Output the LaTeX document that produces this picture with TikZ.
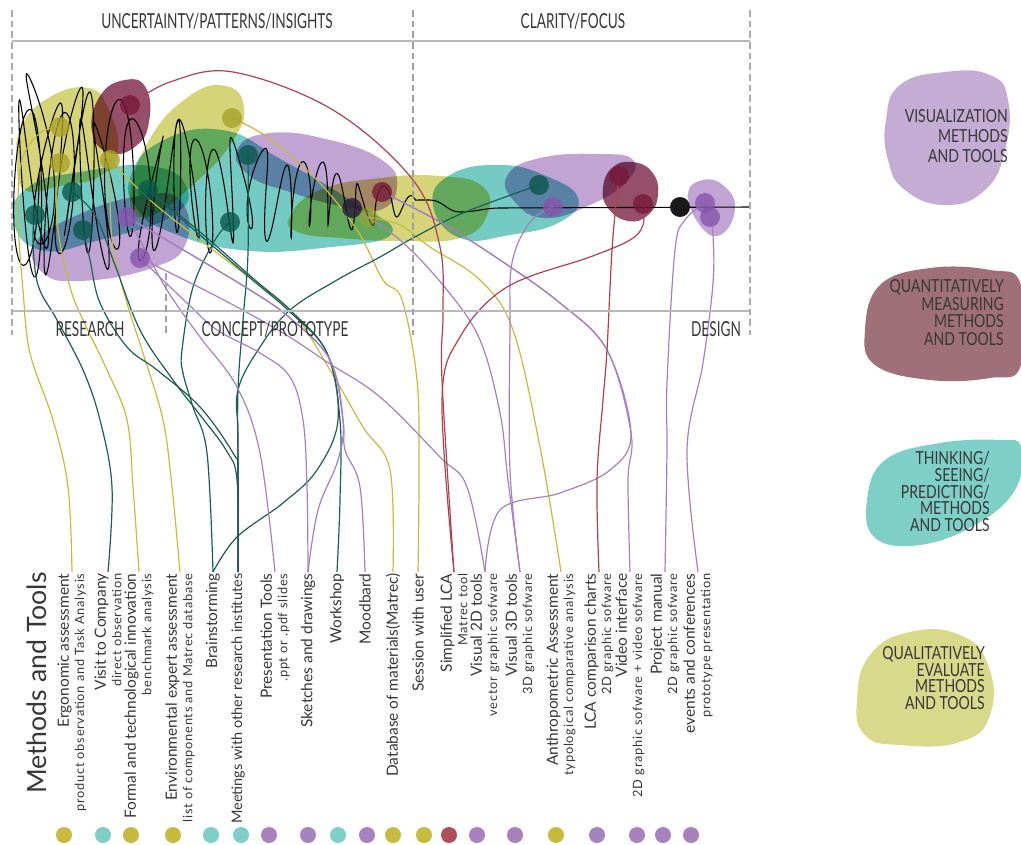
\documentclass[tikz,border=0pt]{standalone}
\usepackage{fontspec}
\setmainfont{Lato}
\newfontfamily\hdfont[FakeStretch=0.66]{Lato}
\newfontfamily\lgfont[FakeStretch=0.78]{Lato}
\newfontfamily\subfam[LetterSpace=6]{Lato}

\pgfdeclarelayer{blobs}
\pgfdeclarelayer{lines}
\pgfsetlayers{blobs,lines,main}

\definecolor{txtgray}{RGB}{55,55,55}
\definecolor{blY}{RGB}{206,204,96}
\definecolor{blT}{RGB}{92,194,186}
\definecolor{blP}{RGB}{182,148,205}
\definecolor{blM}{RGB}{132,48,78}
\definecolor{lgP}{RGB}{197,172,212}
\definecolor{lgM}{RGB}{160,112,122}
\definecolor{lgT}{RGB}{126,207,200}
\definecolor{lgY}{RGB}{217,217,139}
\definecolor{lineO}{RGB}{200,186,60}
\definecolor{lineT}{RGB}{28,94,86}
\definecolor{lineP}{RGB}{163,128,192}
\definecolor{lineR}{RGB}{176,64,84}
\definecolor{dotO}{RGB}{168,162,40}
\definecolor{dotT}{RGB}{10,88,76}
\definecolor{dotP}{RGB}{135,85,172}
\definecolor{dotM}{RGB}{118,26,56}
\definecolor{bO}{RGB}{198,187,60}
\definecolor{bT}{RGB}{126,207,200}
\definecolor{bP}{RGB}{166,130,190}
\definecolor{bR}{RGB}{176,78,92}

\newcommand{\subl}[1]{{\subfam\fontsize{9.6}{10}\selectfont #1}}

\begin{document}
\begin{tikzpicture}[x=0.75pt, y=-0.75pt,
  lbl/.style={rotate=90, anchor=east, align=right, inner sep=1pt, text=txtgray, font=\fontsize{11.6}{11.5}\selectfont},
  cdot/.style={circle, minimum size=15pt, inner sep=0pt, fill opacity=.8},
  bdot/.style={circle, minimum size=12pt, inner sep=0pt},
  blob/.style={fill opacity=.85, blend mode=multiply},
  conn/.style={line width=0.9pt},
  lnO/.style={conn, draw=lineO},
  lnT/.style={conn, draw=lineT},
  lnP/.style={conn, draw=lineP},
  lnR/.style={conn, draw=lineR},
  scrib/.style={draw=black, line width=0.8pt},
  hd/.style={font=\hdfont\fontsize{15.5}{16}\selectfont, text=txtgray},
  lg/.style={anchor=north east, align=right, inner sep=0pt, font=\lgfont\fontsize{13.5}{13.3}\selectfont, text=txtgray},
  frameline/.style={draw=gray!55, line width=1.5pt},
  vdash/.style={draw=gray!65, line width=1pt, dash pattern=on 5pt off 3pt}]
\useasboundingbox (0,0) rectangle (1021,845);

% frame
\draw[frameline] (12,41) -- (750,41);
\draw[frameline] (12,311) -- (750,311);
\draw[vdash] (12,10) -- (12,335);
\draw[vdash] (750,10) -- (750,335);
\draw[vdash, line width=2pt, draw=gray!75] (413,10) -- (413,335);
\draw[vdash, line width=2pt, draw=gray!75] (166,273) -- (166,335);

\node[hd] (hUnc) at (217,21) {UNCERTAINTY/PATTERNS/INSIGHTS};
\node[hd] (hCla) at (573,21) {CLARITY/FOCUS};
\node[hd] (hRes) at (90,329) {RESEARCH};
\node[hd] (hCon) at (275,329) {CONCEPT/PROTOTYPE};
\node[hd] (hDes) at (716,329) {DESIGN};

% blobs in the chart
\begin{pgfonlayer}{blobs}
\fill[blob, fill=blY] plot[smooth cycle, tension=.8] coordinates {(17,160) (22,125) (50,97) (88,88) (108,108) (118,150) (100,176) (60,186) (25,190)};
\fill[blob, fill=blT] plot[smooth cycle, tension=.8] coordinates {(13,218) (30,186) (80,172) (150,166) (186,186) (172,216) (100,240) (40,250)};
\fill[blob, fill=blM] plot[smooth cycle, tension=.8] coordinates {(92,132) (100,96) (125,80) (146,88) (149,122) (136,146) (110,153)};
\fill[blob, fill=blY] plot[smooth cycle, tension=.8] coordinates {(130,200) (148,142) (188,97) (226,86) (244,108) (232,142) (196,182) (150,216)};
\fill[blob, fill=blT] plot[smooth cycle, tension=.8] coordinates {(130,178) (160,142) (222,130) (282,160) (350,200) (392,233) (322,248) (240,250) (170,232) (138,210)};
\fill[blob, fill=blP] plot[smooth cycle, tension=.8] coordinates {(36,242) (80,214) (140,196) (180,200) (186,243) (152,268) (80,281) (42,272)};
\fill[blob, fill=blP] plot[smooth cycle, tension=.8] coordinates {(237,150) (270,133) (330,140) (382,160) (397,186) (380,210) (340,206) (290,192) (250,176)};
\fill[blob, fill=blY] plot[smooth cycle, tension=.8] coordinates {(290,216) (320,190) (380,178) (440,176) (482,186) (487,215) (460,238) (400,241) (340,238) (298,232)};
\fill[blob, fill=blT] plot[smooth cycle, tension=.8] coordinates {(433,205) (450,175) (500,165) (546,176) (578,198) (560,222) (510,235) (460,238)};
\fill[blob, fill=blP] plot[smooth cycle, tension=.8] coordinates {(507,176) (540,158) (600,154) (633,160) (626,182) (590,205) (545,218) (515,202)};
\fill[blob, fill=blM] plot[smooth cycle, tension=.8] coordinates {(603,188) (612,168) (632,162) (652,172) (658,195) (648,215) (628,221) (608,208)};
\fill[blob, fill=blP] plot[smooth cycle, tension=.8] coordinates {(688,195) (703,180) (724,186) (735,208) (722,234) (702,228)};
% legend blobs
\fill[lgP] plot[smooth cycle, tension=.8] coordinates {(886,120) (900,85) (945,72) (990,75) (1008,100) (1005,150) (985,190) (945,205) (905,190) (888,160)};
\fill[lgM] plot[smooth cycle, tension=.7] coordinates {(865,330) (880,285) (930,268) (990,270) (1021,285) (1021,365) (990,378) (930,380) (875,365)};
\fill[lgT] plot[smooth cycle, tension=.7] coordinates {(867,500) (885,460) (940,443) (1000,440) (1021,447) (1015,490) (975,525) (920,545) (875,538)};
\fill[lgY] plot[smooth cycle, tension=.8] coordinates {(857,700) (870,655) (910,632) (960,635) (988,665) (990,715) (960,742) (900,745) (865,735)};
\end{pgfonlayer}

% legend
\node[lg, font=\lgfont\fontsize{13.5}{15}\selectfont] (tVis) at (1008,109) {VISUALIZATION\\METHODS\\AND TOOLS};
\node[lg] (tQuan) at (1004,279) {QUANTITATIVELY\\MEASURING\\METHODS\\AND TOOLS};
\node[lg, font=\lgfont\fontsize{13.5}{12.6}\selectfont] (tThink) at (990,451) {THINKING/\\SEEING/\\PREDICTING/\\METHODS\\AND TOOLS};
\node[lg, font=\lgfont\fontsize{13.5}{12.6}\selectfont] (tQual) at (985,646) {QUALITATIVELY\\EVALUATE\\METHODS\\AND TOOLS};

% dots in the chart
\node[cdot, fill=dotO] (dYa) at (60,127) {};
\node[cdot, fill=dotO] (dYb) at (60,163) {};
\node[cdot, fill=dotO] (dYc) at (110,160) {};
\node[cdot, fill=dotO] (dYd) at (232,118) {};
\node[cdot, fill=dotO, fill opacity=.5] (dYe) at (368,217) {};
\node[cdot, fill=dotM] (dMa) at (130,105) {};
\node[cdot, fill=dotM] (dMb) at (382,192) {};
\node[cdot, fill=dotM] (dMc) at (619,176) {};
\node[cdot, fill=dotM] (dMd) at (643,204) {};
\node[cdot, fill=dotT] (dTa) at (72,192) {};
\node[cdot, fill=dotT] (dTb) at (35,215) {};
\node[cdot, fill=dotT] (dTc) at (83,230) {};
\node[cdot, fill=dotT] (dTd) at (148,190) {};
\node[cdot, fill=dotT] (dTe) at (230,222) {};
\node[cdot, fill=dotT] (dTf) at (248,155) {};
\node[cdot, fill=dotT] (dTg) at (539,185) {};
\node[cdot, fill=dotP] (dPa) at (127,217) {};
\node[cdot, fill=dotP] (dPb) at (140,258) {};
\node[cdot, fill=dotP] (dPc) at (553,207) {};
\node[cdot, fill=dotP] (dPd) at (705,203) {};
\node[cdot, fill=dotP] (dPe) at (710,217) {};
\node[cdot, fill=black!70!dotP] (dPf) at (352,208) {};
\node[cdot, fill=black!90, fill opacity=1] (dEnd) at (680,207) {};

% methods and tools
\node[rotate=90, anchor=east, inner sep=0pt, text=txtgray, font=\fontsize{20}{20}\selectfont] (mTitle) at (37,572) {Methods and Tools};
\node[lbl] (lErgo) at (72,572) {Ergonomic assessment\\\subl{product observation and Task Analysis}};
\node[lbl] (lVisit) at (108,572) {Visit to Company\\\subl{direct observation}};
\node[lbl] (lFormal) at (139,572) {Formal and technological innovation\\\subl{benchmark analysis}};
\node[lbl] (lEnv) at (180,572) {Environmental expert assessment\\\subl{list of components and Matrec database}};
\node[lbl] (lBrain) at (213,572) {Brainstorming};
\node[lbl, font=\fontsize{10.9}{11}\selectfont] (lMeet) at (238,572) {Meetings with other research institutes};
\node[lbl] (lPres) at (275,572) {Presentation Tools\\\subl{.ppt or .pdf slides}};
\node[lbl] (lSketch) at (308,572) {Sketches and drawings};
\node[lbl] (lWork) at (337,572) {Workshop};
\node[lbl] (lMood) at (365,572) {Moodbard};
\node[lbl] (lData) at (393,572) {Database of materials(Matrec)};
\node[lbl] (lSess) at (418,572) {Session with user};
\node[lbl] (lSLCA) at (454,572) {Simplified LCA\\\subl{Matrec tool}};
\node[lbl] (lVtwo) at (485,572) {Visual 2D tools\\\subl{vector graphic sofware}};
\node[lbl] (lVthree) at (520,572) {Visual 3D tools\\\subl{3D graphic sofware}};
\node[lbl] (lAnthro) at (561,572) {Anthropometric Assessment\\\subl{typological comparative analysis}};
\node[lbl] (lLCAc) at (599,572) {LCA comparison charts\\\subl{2D graphic sofware}};
\node[lbl] (lVideo) at (630,572) {Video interface\\\subl{2D graphic sofware + video sofware}};
\node[lbl] (lManual) at (665,572) {Project manual\\\subl{2D graphic sofware}};
\node[lbl] (lEvents) at (698,572) {events and conferences\\\subl{prototype presentation}};

% category dots
\node[bdot, fill=bO] (bErgo) at (64,835) {};
\node[bdot, fill=bT] (bVisit) at (103,835) {};
\node[bdot, fill=bO] (bFormal) at (131,835) {};
\node[bdot, fill=bO] (bEnv) at (173,835) {};
\node[bdot, fill=bT] (bBrain) at (211,835) {};
\node[bdot, fill=bT] (bMeet) at (241,835) {};
\node[bdot, fill=bP] (bPres) at (269,835) {};
\node[bdot, fill=bP] (bSketch) at (308,835) {};
\node[bdot, fill=bT] (bWork) at (338,835) {};
\node[bdot, fill=bP] (bMood) at (367,835) {};
\node[bdot, fill=bO] (bData) at (393,835) {};
\node[bdot, fill=bO] (bSess) at (424,835) {};
\node[bdot, fill=bR] (bSLCA) at (449,835) {};
\node[bdot, fill=bP] (bVtwo) at (477,835) {};
\node[bdot, fill=bP] (bVthree) at (515,835) {};
\node[bdot, fill=bO] (bAnthro) at (556,835) {};
\node[bdot, fill=bP] (bLCAc) at (597,835) {};
\node[bdot, fill=bP] (bVideo) at (637,835) {};
\node[bdot, fill=bP] (bManual) at (663,835) {};
\node[bdot, fill=bP] (bEvents) at (691,835) {};

\begin{pgfonlayer}{lines}
% the process line
\draw[scrib] plot[domain=0:1, samples=900, variable=\s] ({26+389*\s^1.5+14*(1-(26+389*\s^1.5)/440)*cos(9000*\s+50*sin(3100*\s))}, {172+35*(26+389*\s^1.5)/415+88*(1-(26+389*\s^1.5)/440)^0.8*sin(9000*\s+70*sin(1300*\s))+22*(1-(26+389*\s^1.5)/440)*sin(2500*\s)})
  to[out=0,in=180] (430,200) to[out=0,in=180] (460,212) to[out=0,in=180] (500,208) -- (750,207);

% olive connectors
\draw[lnO] plot[smooth, tension=.6] coordinates {(lErgo.east) (68,487) (53,420) (30,353) (23,290) (18,215) (22,160) (40,133) (dYa)};
\draw[lnO] plot[smooth, tension=.6] coordinates {(lFormal.east) (133,487) (127,420) (107,370) (83,320) (70,287) (58,230) (57,190) (dYb)};
\draw[lnO] plot[smooth, tension=.6] coordinates {(lEnv.east) (172,487) (163,420) (143,353) (127,303) (112,240) (dYc)};
\draw[lnO] plot[smooth, tension=.6] coordinates {(lData.east) (390,470) (363,427) (330,370) (295,315) (255,282) (200,240) (150,200) (dYc)};
\draw[lnO] plot[smooth, tension=.6] coordinates {(lSess.east) (419,467) (417,380) (402,300) (383,280) (357,230) (317,180) (267,137) (dYd)};
\draw[lnO] plot[smooth, tension=.6] coordinates {(lAnthro.east) (540,447) (513,330) (480,280) (430,247) (400,225) (dYe)};

% teal connectors
\draw[lnT] plot[smooth, tension=.6] coordinates {(lVisit.east) (112,487) (100,420) (83,370) (57,320) (38,285) (33,240) (dTb)};
\draw[lnT] plot[smooth, tension=.6] coordinates {(lBrain.east) (207,453) (193,407) (183,373) (182,350) (193,287) (215,240) (dTe)};
\draw[lnT] plot[smooth, tension=.6] coordinates {(lBrain.east) (237,537) (283,503) (317,470) (338,420) (327,353) (290,312) (255,282) (200,235) (dTd)};
\draw[lnT] plot[smooth, tension=.6] coordinates {(lWork.east) (340,500) (340,420) (327,353) (290,310) (255,280) (200,232) (dTd)};
\draw[lnT] plot[smooth, tension=.6] coordinates {(lMeet.east) (238,470) (238,390) (243,320) (248,253) (dTf)};
\draw[lnT] plot[smooth, tension=.6] coordinates {(lMeet.east) (238,440) (238,390) (260,347) (290,310) (337,280) (380,257) (413,238) (463,213) (dTg)};
\draw[lnT] plot[smooth, tension=.6] coordinates {(lMeet.east) (238,473) (233,453) (200,407) (157,370) (127,347) (100,303) (90,260) (dTc)};
\draw[lnT] plot[smooth, tension=.6] coordinates {(lMeet.east) (237,480) (226,450) (200,415) (173,380) (140,330) (115,265) (95,215) (dTa)};

% purple connectors
\draw[lnP] plot[smooth, tension=.6] coordinates {(lPres.east) (260,453) (237,387) (200,337) (167,290) (140,240) (dPa)};
\draw[lnP] plot[smooth, tension=.6] coordinates {(lSketch.east) (307,487) (303,420) (290,377) (260,353) (217,330) (187,303) (dPb)};
\draw[lnP] plot[smooth, tension=.6] coordinates {(lSketch.east) (318,510) (338,460) (343,420) (330,360) (290,318) (250,290) (180,248) (dPa)};
\draw[lnP] plot[smooth, tension=.6] coordinates {(lMood.east) (360,487) (345,450) (343,420) (330,360) (290,318) (250,290) (180,248) (dPa)};
\draw[lnP] plot[smooth, tension=.6] coordinates {(lVtwo.east) (467,487) (440,457) (380,397) (327,362) (283,333) (220,298) (dPb)};
\draw[lnP] plot[smooth, tension=.6] coordinates {(lVtwo.east) (500,510) (560,493) (610,470) (631,433) (607,350) (560,303) (500,260) (440,222) (dMb)};
\draw[lnP] plot[smooth, tension=.6] coordinates {(lVideo.east) (628,480) (631,433) (607,350) (560,303) (500,260) (440,222) (dMb)};
\draw[lnP] plot[smooth, tension=.6] coordinates {(lVthree.east) (510,470) (510,330) (512,263) (530,222) (dPc)};
\draw[lnP] plot[smooth, tension=.6] coordinates {(lVthree.east) (508,480) (500,413) (480,340) (447,290) (400,240) (dPf)};
\draw[lnP] plot[smooth, tension=.6] coordinates {(lManual.east) (667,450) (667,383) (675,250) (685,220) (dPd)};
\draw[lnP] plot[smooth, tension=.6] coordinates {(lEvents.east) (687,450) (703,363) (713,283) (713,235) (dPe)};

% red connectors
\draw[lnR] plot[smooth, tension=.6] coordinates {(lSLCA.east) (442,380) (443,313) (440,247) (413,180) (333,110) (233,72) (170,82) (dMa)};
\draw[lnR] plot[smooth, tension=.6] coordinates {(lSLCA.east) (442,400) (460,337) (507,287) (590,257) (630,240) (643,225) (dMd)};
\draw[lnR] plot[smooth, tension=.6] coordinates {(lLCAc.east) (597,480) (603,400) (607,350) (612,250) (617,195) (dMc)};
\end{pgfonlayer}
\end{tikzpicture}
\end{document}
